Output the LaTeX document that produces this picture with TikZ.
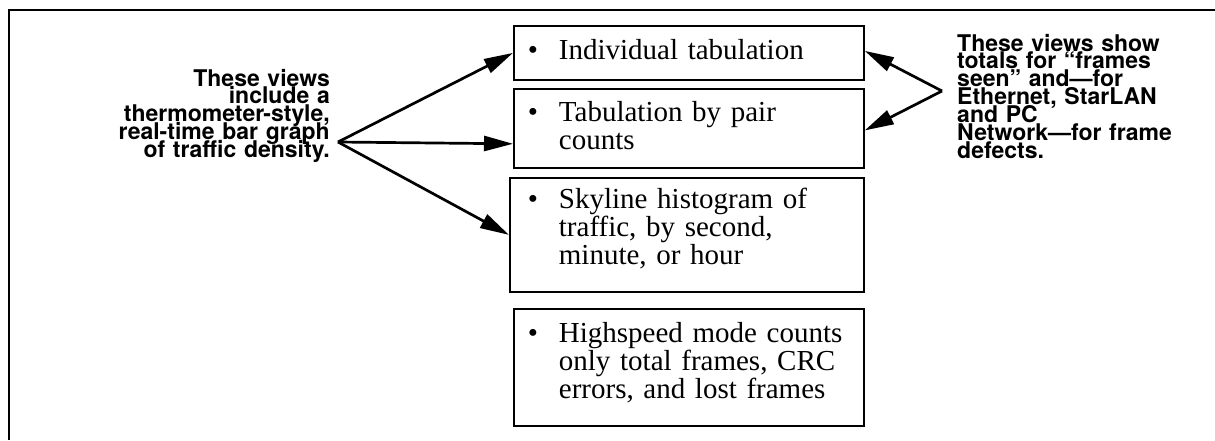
\documentclass[tikz,border=0pt]{standalone}
\usepackage{fontspec}
\setmainfont{Liberation Serif}
\newfontfamily\notesans{TeX Gyre Heros}
\usetikzlibrary{arrows.meta}
% bold sans notes with a fixed line pitch
\newcommand\notefont{\notesans\bfseries\fontsize{23}{17.9}\selectfont
  \lineskiplimit=-100pt\relax}

\begin{document}
\begin{tikzpicture}[x=1pt,y=-1pt,
  itembox/.style={draw, line width=1.8pt, anchor=north west,
    inner xsep=0pt, inner ysep=0pt, text width=#1, align=left,
    font=\fontsize{29}{28}\selectfont},
  note/.style={inner sep=0pt, font=\notefont},
  pointer/.style={line width=2.7pt, -{Triangle[length=29pt,width=15pt]}},
  frameline/.style={line width=2pt}
]
\useasboundingbox (0,0) rectangle (1215,440);

% open frame: top rule and left rule
\draw[frameline] (9,440) -- (9,10) -- (1215,10);

% bulleted boxes
\node[itembox=350pt, text height=34pt, text depth=20pt] (b1) at (513,25)
  {\hspace*{14pt}\makebox[31pt][l]{\textbullet}Individual tabulation};
\node[itembox=350pt, text height=33pt, text depth=46pt] (b2) at (513,88)
  {\hspace*{14pt}\makebox[31pt][l]{\textbullet}Tabulation by pair\\
   \hspace*{45pt}counts};
\node[itembox=354pt, text height=31pt, text depth=83pt] (b3) at (509,177)
  {\hspace*{18pt}\makebox[31pt][l]{\textbullet}Skyline histogram of\\
   \hspace*{49pt}traffic, by second,\\
   \hspace*{49pt}minute, or hour};
\node[itembox=350pt, text height=34pt, text depth=83pt] (b4) at (513,308)
  {\hspace*{14pt}\makebox[31pt][l]{\textbullet}Highspeed mode counts\\
   \hspace*{45pt}only total frames, CRC\\
   \hspace*{45pt}errors, and lost frames};

% side notes
\node[note, text width=240pt, align=right, anchor=base east] (lnote) at (330,86)
  {These views\\ include a\\ thermometer-style,\\ real-time bar graph\\ of traffic density.};
\node[note, text width=250pt, align=left, anchor=base west] (rnote) at (957,51)
  {These views show\\ totals for “frames\\ seen” and—for\\ Ethernet, StarLAN\\ and PC\\ Network—for frame\\ defects.};

% pointers
\coordinate (lsrc) at (338,142);
\coordinate (rsrc) at (942,91);
\draw[pointer] (lsrc) -- (b1.west);
\draw[pointer] (lsrc) -- ([yshift=25pt]b2.south west);
\draw[pointer] (lsrc) -- (b3.west);
\draw[pointer] (rsrc) -- ([yshift=2pt]b1.east);
\draw[pointer] (rsrc) -- ([yshift=-2pt]b2.east);
\end{tikzpicture}
\end{document}
